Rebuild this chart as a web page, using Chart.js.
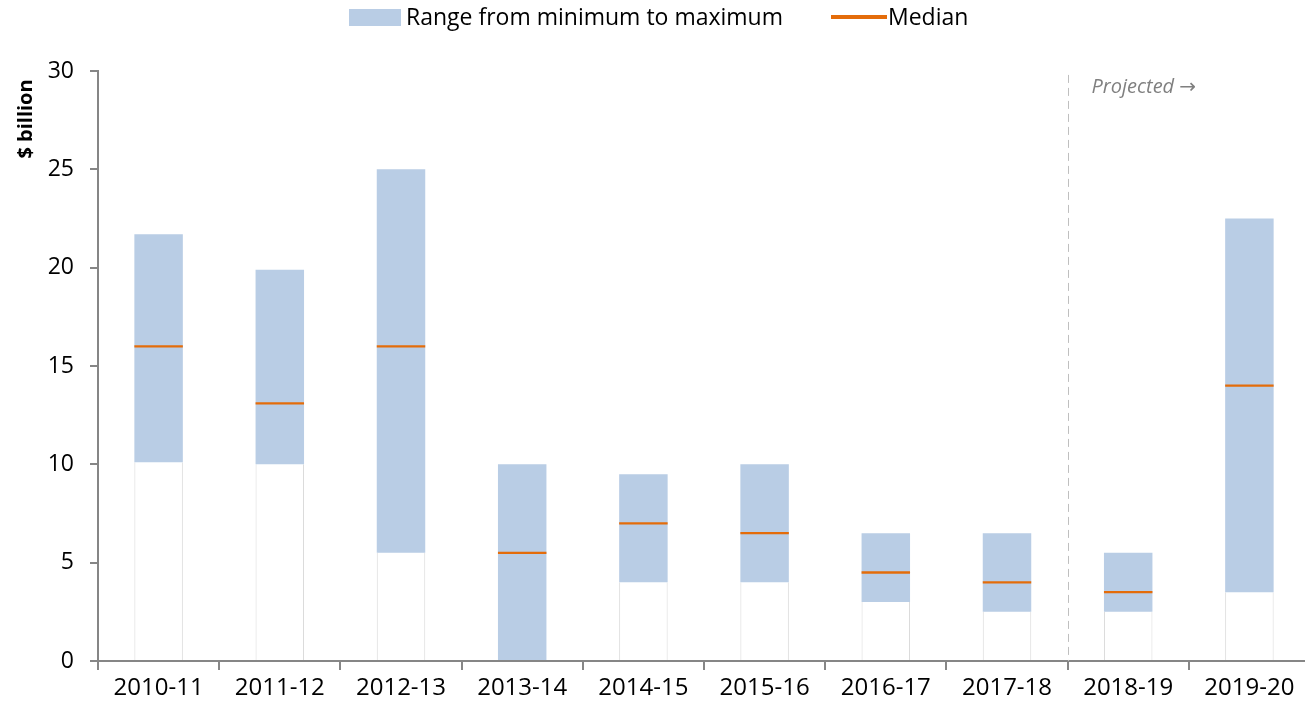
<!DOCTYPE html>
<html>
<head>
<meta charset="utf-8">
<script src="https://cdn.jsdelivr.net/npm/chart.js@4.4.1/dist/chart.umd.min.js"></script>
<style>
  html, body { margin: 0; padding: 0; background: #fff; overflow: hidden; }
  #wrap { width: 1305px; height: 710px; overflow: hidden; }
</style>
</head>
<body>
<div id="wrap"><canvas id="chart" width="1310" height="710"></canvas></div>
<script>
// Data ($ billion)
const years = ['2010-11', '2011-12', '2012-13', '2013-14', '2014-15', '2015-16', '2016-17', '2017-18', '2018-19', '2019-20'];
const minVals = [10.1, 10.0, 5.5, 0, 4.0, 4.0, 3.0, 2.5, 2.5, 3.5];
const maxVals = [21.7, 19.9, 25.0, 10.0, 9.5, 10.0, 6.5, 6.5, 5.5, 22.5];
const medianVals = [16.0, 13.1, 16.0, 5.5, 7.0, 6.5, 4.5, 4.0, 3.5, 14.0];
const yTicks = [0, 5, 10, 15, 20, 25, 30];
const projectedAfter = '2017-18';

const FONT = '"Open Sans", "DejaVu Sans", sans-serif';
const RANGE_COLOR = '#b9cde5';
const MEDIAN_COLOR = '#e46c0a';
const AXIS_COLOR = '#868686';

const medianHalf = 0.06;

// Legend, axis title and projection marker drawn on the canvas
const extras = {
    id: 'extras',
    afterDraw(chart) {
        const ctx = chart.ctx;
        const x = chart.scales.x, y = chart.scales.y;
        ctx.save();

        // legend
        ctx.fillStyle = RANGE_COLOR;
        ctx.fillRect(349, 9, 52, 17);
        ctx.fillStyle = '#000';
        ctx.font = '23px ' + FONT;
        ctx.textBaseline = 'middle';
        ctx.textAlign = 'left';
        ctx.fillText('Range from minimum to maximum', 406, 18);
        ctx.strokeStyle = MEDIAN_COLOR;
        ctx.lineWidth = 4;
        ctx.beginPath();
        ctx.moveTo(831, 17);
        ctx.lineTo(887, 17);
        ctx.stroke();
        ctx.fillText('Median', 888, 18);

        // y axis title
        ctx.save();
        ctx.translate(26, 119);
        ctx.rotate(-Math.PI / 2);
        ctx.font = 'bold 20px ' + FONT;
        ctx.textAlign = 'center';
        ctx.fillText('$ billion', 0, 0);
        ctx.restore();

        // projection divider
        const i = years.indexOf(projectedAfter);
        const px = Math.round((x.getPixelForValue(i) + x.getPixelForValue(i + 1)) / 2) + 0.5;
        ctx.strokeStyle = '#bfbfbf';
        ctx.lineWidth = 1;
        ctx.setLineDash([8, 5]);
        ctx.beginPath();
        ctx.moveTo(px, y.getPixelForValue(29.8));
        ctx.lineTo(px, y.getPixelForValue(0));
        ctx.stroke();
        ctx.setLineDash([]);
        ctx.fillStyle = '#808080';
        ctx.font = 'italic 20px ' + FONT;
        ctx.fillText('Projected \u2192', px + 23, 87);

        ctx.restore();
    }
};

const ctx = document.getElementById('chart').getContext('2d');
new Chart(ctx, {
    type: 'bar',
    data: {
        labels: years,
        datasets: [
            {
                label: 'Median',
                data: medianVals.map(m => [m - medianHalf, m + medianHalf]),
                backgroundColor: MEDIAN_COLOR,
                borderWidth: 0,
                grouped: false,
                order: 1
            },
            {
                label: 'Range from minimum to maximum',
                data: minVals.map((v, i) => [v, maxVals[i]]),
                backgroundColor: RANGE_COLOR,
                borderWidth: 0,
                grouped: false,
                order: 2
            },
            {
                label: 'base',
                data: minVals.map(v => [0, v]),
                backgroundColor: '#ffffff',
                borderColor: '#d9d9d9',
                borderWidth: { left: 1, right: 1, top: 0, bottom: 0 },
                borderSkipped: false,
                grouped: false,
                order: 3
            }
        ]
    },
    options: {
        responsive: false,
        animation: false,
        layout: { padding: { top: 71, right: 0, left: 0, bottom: 0 } },
        datasets: { bar: { categoryPercentage: 1, barPercentage: 0.4 } },
        plugins: {
            legend: { display: false },
            tooltip: { enabled: false }
        },
        scales: {
            x: {
                offset: true,
                grid: {
                    offset: true,
                    drawOnChartArea: false,
                    color: AXIS_COLOR,
                    tickLength: 9,
                    lineWidth: 2
                },
                border: { color: AXIS_COLOR, width: 2 },
                ticks: { color: '#000', font: { family: FONT, size: 24 }, padding: 4, maxRotation: 0 },
                afterFit: s => { s.height = 49; }
            },
            y: {
                min: 0,
                max: 30,
                afterBuildTicks: s => { s.ticks = yTicks.map(v => ({ value: v })); },
                grid: { drawOnChartArea: false, color: AXIS_COLOR, tickLength: 8, lineWidth: 2 },
                border: { color: AXIS_COLOR, width: 2 },
                ticks: { color: '#000', font: { family: FONT, size: 23 }, padding: 16 },
                afterFit: s => { s.width = 98; }
            }
        }
    },
    plugins: [extras]
});
</script>
</body>
</html>
